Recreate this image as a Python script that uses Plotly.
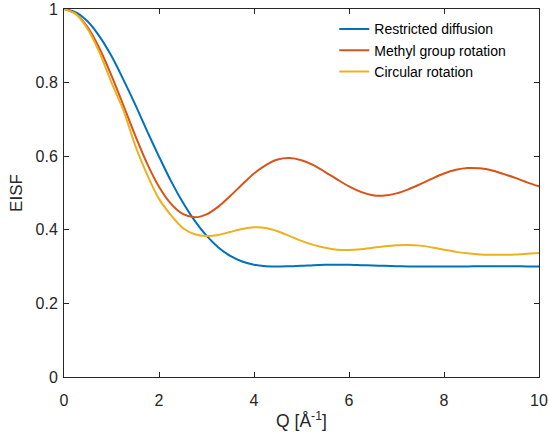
import plotly.graph_objects as go

q = [0.0, 0.25, 0.5, 0.75, 1.0, 1.25, 1.5, 1.75, 2.0, 2.25, 2.5, 2.75, 3.0, 3.25, 3.5, 3.75,
     4.0, 4.25, 4.5, 4.75, 5.0, 5.25, 5.5, 5.75, 6.0, 6.25, 6.5, 6.75, 7.0, 7.25, 7.5, 7.75,
     8.0, 8.25, 8.5, 8.75, 9.0, 9.25, 9.5, 9.75, 10.0]

restricted = [1.000, 0.991, 0.966, 0.925, 0.872, 0.808, 0.740, 0.668, 0.599, 0.533, 0.475, 0.425,
              0.384, 0.352, 0.329, 0.314, 0.305, 0.301, 0.300, 0.301, 0.302, 0.304, 0.305, 0.305,
              0.305, 0.304, 0.303, 0.302, 0.301, 0.3005, 0.300, 0.300, 0.300, 0.300, 0.3006, 0.3008,
              0.3009, 0.3009, 0.3008, 0.3006, 0.3004]

methyl = [1.000, 0.987, 0.950, 0.892, 0.819, 0.738, 0.656, 0.580, 0.517, 0.471, 0.443, 0.434,
          0.442, 0.463, 0.492, 0.523, 0.553, 0.576, 0.591, 0.595, 0.589, 0.576, 0.557, 0.537,
          0.518, 0.503, 0.494, 0.493, 0.499, 0.510, 0.524, 0.539, 0.553, 0.563, 0.568, 0.567,
          0.562, 0.552, 0.541, 0.529, 0.518]

circular = [1.000, 0.986, 0.945, 0.881, 0.800, 0.725, 0.629, 0.550, 0.484, 0.440, 0.405, 0.388,
            0.383, 0.386, 0.394, 0.402, 0.407, 0.405, 0.396, 0.383, 0.370, 0.359, 0.351, 0.346,
            0.345, 0.347, 0.351, 0.355, 0.358, 0.359, 0.357, 0.352, 0.346, 0.340, 0.336, 0.333,
            0.332, 0.332, 0.333, 0.335, 0.337]

names = ["Restricted diffusion", "Methyl group rotation", "Circular rotation"]
colors = ["#0072BD", "#D95319", "#EDB120"]
series = [restricted, methyl, circular]

fig = go.Figure()
for name, col, ys in zip(names, colors, series):
    fig.add_trace(go.Scatter(x=q, y=ys, mode="lines", name=name,
                             line=dict(color=col, width=2, shape="spline", smoothing=0.8)))

FONT = "Liberation Sans, Arial, Helvetica"
axis_common = dict(showgrid=False, zeroline=False, showline=True, linecolor="#262626",
                   linewidth=1, mirror="allticks", ticks="inside", ticklen=5,
                   tickcolor="#262626", automargin=False,
                   tickfont=dict(family=FONT, size=16, color="#262626"))

fig.update_layout(
    width=549, height=439,
    margin=dict(l=64, r=10, t=9, b=62, autoexpand=False),
    paper_bgcolor="white", plot_bgcolor="white",
    font=dict(family=FONT, color="#262626"),
    xaxis=dict(range=[0, 10], tickvals=[0, 2, 4, 6, 8, 10], ticklabelstandoff=9,
               title=dict(text="Q [Å<sup>-1</sup>]", font=dict(size=17.5), standoff=6),
               **axis_common),
    yaxis=dict(range=[0, 1], tickvals=[0, 0.2, 0.4, 0.6, 0.8, 1],
               ticktext=["0", "0.2", "0.4", "0.6", "0.8", "1"], ticklabelstandoff=2,
               title=dict(text="EISF", font=dict(size=17), standoff=8),
               **axis_common),
    legend=dict(x=0.569, y=0.988, xanchor="left", yanchor="top", bgcolor="rgba(0,0,0,0)",
                borderwidth=0, font=dict(family=FONT, size=14, color="#000000"),
                tracegroupgap=0),
    showlegend=True,
)

fig.write_html("out.html")
